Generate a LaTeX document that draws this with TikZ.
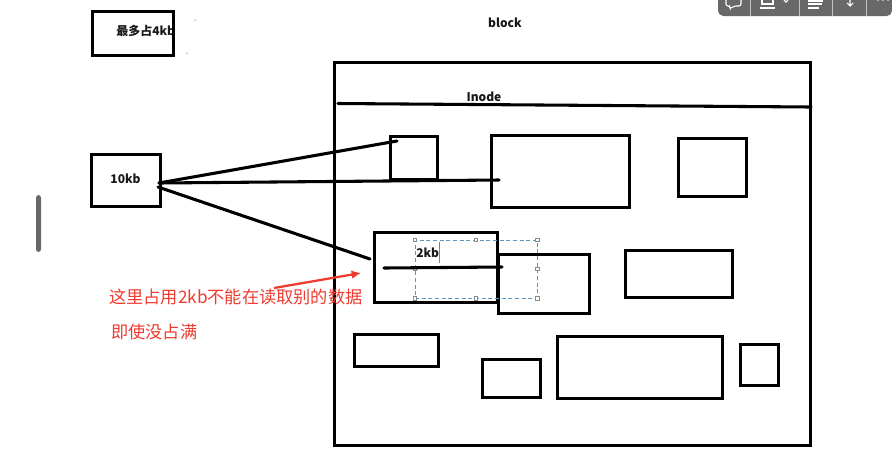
\documentclass[tikz,border=0pt]{standalone}
\usepackage{fontspec}
\usepackage{xcolor}
\setmainfont{Noto Sans CJK SC}
\usetikzlibrary{arrows.meta,calc}
\definecolor{NoteRed}{HTML}{EE3B30}
\definecolor{SelectBlue}{HTML}{5E97BE}
\definecolor{BarGray}{HTML}{686868}
\definecolor{HandleGray}{HTML}{8A8A8A}

\begin{document}
\begin{tikzpicture}[
  x=.75pt,y=-.75pt,
  box/.style 2 args={draw=black,line width=2.3pt,inner sep=0pt,minimum width=#1*.75pt-.75pt,minimum height=#2*.75pt-.75pt},
  lbl/.style={font=\bfseries\fontsize{9}{11}\selectfont,inner sep=0pt,text=black!90},
  rednote/.style={font=\fontsize{12.9}{15}\selectfont,inner sep=0pt,text=NoteRed,anchor=west},
  wire/.style={line width=2.3pt,line cap=round},
  handle/.style={draw=HandleGray,fill=white,line width=.4pt,minimum size=2.4pt,inner sep=0pt},
  icon/.style={draw=white,line width=.8pt}
]
\useasboundingbox (0,0) rectangle (892,455);
% top toolbar and scroll bar of the screenshot
\fill[BarGray,rounded corners=4pt] (718,-10) rectangle (892,16);
\draw[white!60!BarGray,line width=.4pt] (750,0) -- (750,16) (799,0) -- (799,16) (832,0) -- (832,16) (866,0) -- (866,16);
\draw[icon,rounded corners=1.5pt] (726,0) -- (726,6) -- (730,6) -- (730,9) -- (734,6) -- (741,6) -- (741,0);
\draw[icon] (762,0) -- (762,4) -- (773,4) -- (773,0) (760,8) -- (775,8);
\draw[icon] (784,0) -- (786,2) -- (788,0);
\draw[icon] (808,1) -- (823,1) (808,4) -- (822,4) (808,8) -- (819,8);
\draw[icon] (843,0) arc[start angle=180,end angle=360,radius=7];
\draw[icon] (850,0) -- (850,5) (847,3) -- (850,6) -- (853,3);
\fill[white] (878,0) circle (.8) (883,0) circle (.8) (888,0) circle (.8);
\fill[BarGray,rounded corners=2pt] (36,195) rectangle (41,252);
% loose boxes
\node[lbl,anchor=west] (notetxt) at (116,31) {最多占4kb};
\node[box={82}{45}] (note) at (133,33.5) {};
\node[box={70}{53}] (file) at (126,180.5) {};
\node[lbl] (filetxt) at (125.5,179) {10kb};
\fill (195,20) circle (.5) (187,53) circle (.5);
% block area
\node[box={477}{384}] (frame) at (572.5,254) {};
\node[lbl] (blocktxt) at (505,22.5) {block};
\node[lbl] (inodetxt) at (484,96.5) {Inode};
\coordinate (inodeL) at (338,103.5);
\coordinate (inodeR) at (811,107);
\draw[wire] (inodeL) -- (inodeR);
\node[box={48}{44}] (a) at (414,158) {};
\node[box={139}{73}] (b) at (560.5,171.5) {};
\node[box={69}{59}] (c) at (712.5,167.5) {};
\node[box={92}{60}] (e) at (544,284) {};
\node[box={124}{71}] (d) at (436,267.5) {};
\node[box={108}{48}] (f) at (679,274) {};
\node[box={85}{33}] (g) at (396.5,350.5) {};
\node[box={59}{39}] (h) at (511.5,378.5) {};
\node[box={166}{63}] (i) at (640,367.5) {};
\node[box={39}{42}] (j) at (759.5,365) {};
% selection frame round 2kb
\node[draw=SelectBlue,densely dashed,line width=.5pt,inner sep=0pt,minimum width=91.5pt,minimum height=43.5pt] (sel) at (476,269) {};
\foreach \p in {north west,north,north east,west,east,south west,south,south east}
  \node[handle] (h-\p) at (sel.\p) {};
\node[lbl,anchor=west] (sizetxt) at (416,253) {2kb};
\coordinate (caretT) at (439,242);
\coordinate (caretB) at (439,263);
\draw[gray,line width=.7pt] (caretT) -- (caretB);
% connectors
\coordinate (fileA) at (159,183);
\coordinate (fileB) at (158,187);
\coordinate (endA) at (397,141);
\coordinate (endB) at (499,180);
\coordinate (endC) at (370,259);
\coordinate (innerL) at (384,268);
\coordinate (innerR) at (502,267);
\draw[wire] (fileA) -- (endA);
\draw[wire] (fileA) -- (endB);
\draw[wire] (fileB) -- (endC);
\draw[wire] (innerL) -- (innerR);
% red note
\node[rednote] (line1) at (109,296.5) {这里占用2kb不能在读取别的数据};
\node[rednote] (line2) at (111,331.5) {即使没占满};
\coordinate (arrowS) at (274,288);
\coordinate (arrowE) at (361,273);
\draw[NoteRed,line width=1.7pt,-{Latex[length=7pt,width=6.5pt]}] (arrowS) -- (arrowE);
\end{tikzpicture}
\end{document}
